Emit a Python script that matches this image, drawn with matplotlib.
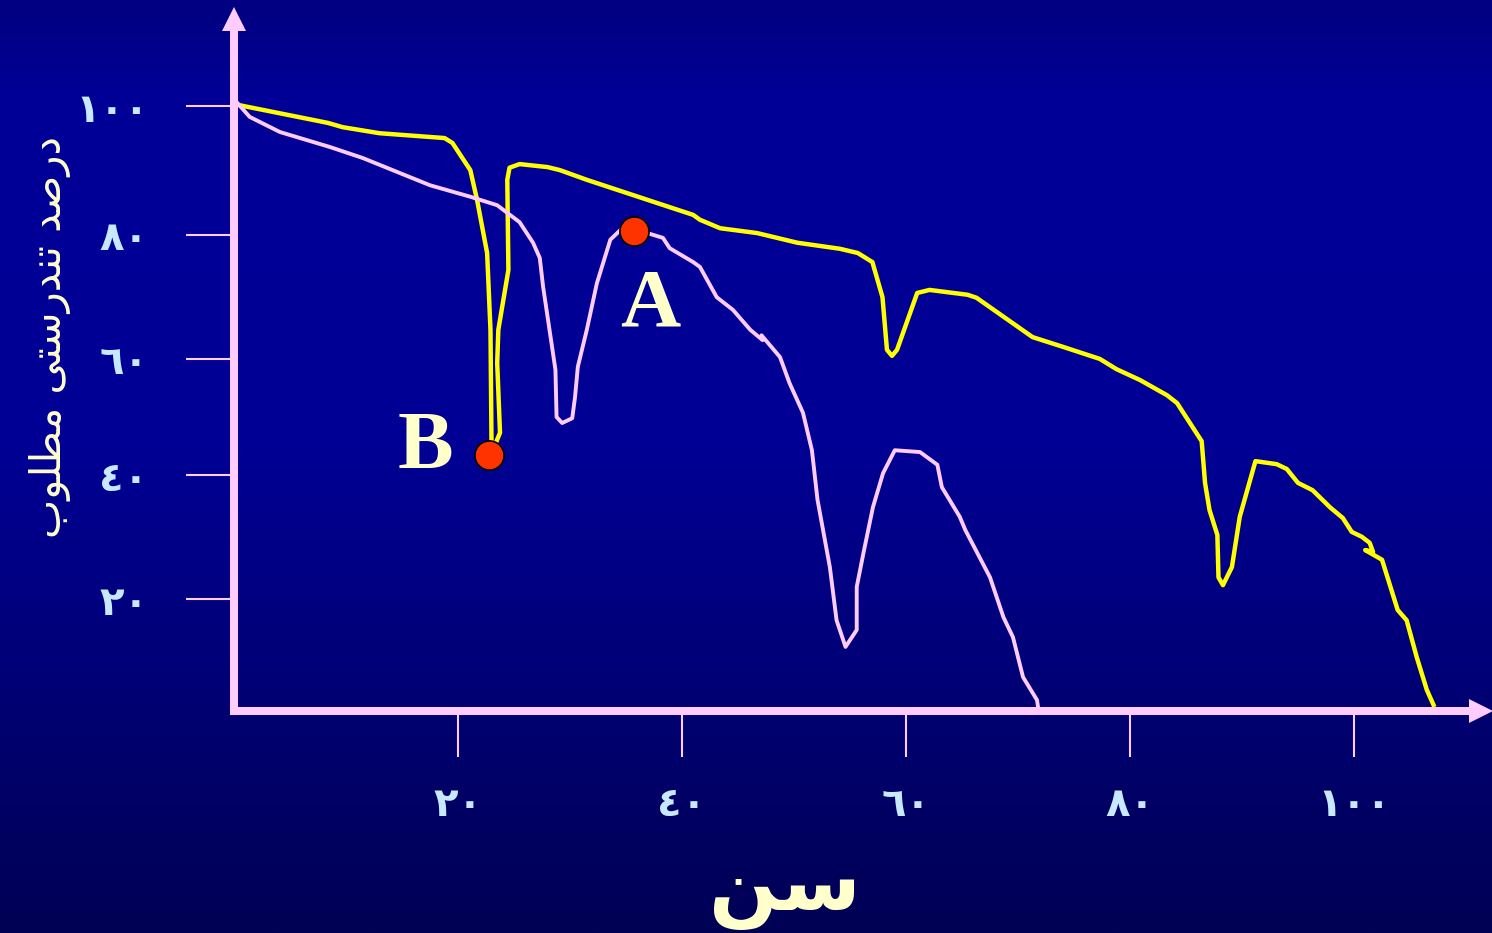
import numpy as np
import matplotlib.pyplot as plt

# values: age (x) against percent of good health (y)
yellow_age = [0.3, 8.4, 9.7, 13.0, 18.8, 19.5, 21.1, 21.7, 22.6, 22.9, 23.0, 23.75,
              23.5, 23.6, 24.5, 24.4, 24.6, 25.5, 28.0, 29.1, 31.5, 36.9, 41.0, 41.6,
              43.4, 46.7, 50.3, 54.1, 55.7, 57.0, 57.9, 58.3, 58.75, 59.2, 61.0, 62.1,
              65.5, 66.3, 71.3, 74.0, 77.3, 78.8, 80.9, 83.3, 84.2, 86.4, 86.7, 87.1,
              87.8, 87.9, 88.3, 89.1, 89.8, 91.2, 93.1, 94.0, 95.0, 96.3, 97.9, 99.0,
              99.8, 100.7, 101.4, 101.7, 101.0, 102.5, 103.9, 104.7, 105.6, 106.5, 107.1]
yellow_health = [100.2, 97.2, 96.5, 95.5, 94.7, 93.9, 89.4, 84.5, 75.7, 63.0, 42.6, 46.0,
                 57.5, 63.0, 72.9, 87.8, 89.8, 90.4, 89.9, 89.4, 87.8, 84.5, 82.0, 81.2,
                 79.8, 79.0, 77.4, 76.4, 75.7, 74.2, 68.4, 59.7, 58.7, 59.7, 69.1, 69.6,
                 68.8, 68.3, 61.8, 60.2, 58.2, 56.5, 54.7, 52.2, 50.9, 44.6, 37.7, 33.2,
                 29.1, 22.1, 20.8, 23.8, 32.1, 41.3, 40.8, 40.0, 37.7, 36.5, 33.6, 31.9,
                 29.6, 28.8, 27.8, 26.3, 26.6, 25.0, 16.7, 15.0, 8.9, 3.5, 1.0]

pink_age = [0.3, 1.4, 4.1, 8.6, 11.5, 17.5, 21.1, 23.5, 25.5, 26.7, 27.3, 27.6, 28.7,
            28.8, 29.3, 30.2, 30.45, 30.7, 31.5, 32.4, 33.6, 34.5, 36.9, 38.3, 38.9,
            41.0, 41.6, 43.1, 44.55, 46.1, 47.2, 47.1, 48.75, 49.6, 50.8, 51.6, 52.1,
            53.2, 53.8, 54.6, 55.6, 55.6, 56.2, 57.05, 57.95, 59.0, 61.25, 62.8, 63.2,
            64.8, 65.3, 67.5, 68.7, 69.55, 70.45, 71.7, 71.8]
pink_health = [100.5, 98.2, 95.7, 93.2, 91.4, 86.9, 85.0, 83.6, 80.8, 77.4, 74.9, 70.1,
               56.4, 48.6, 47.6, 48.4, 51.9, 56.9, 63.0, 70.7, 77.9, 79.5, 79.0, 78.2,
               76.5, 74.2, 73.4, 68.4, 66.3, 63.0, 61.3, 62.1, 58.5, 54.2, 49.3, 43.1,
               34.9, 23.8, 15.0, 10.6, 13.4, 20.5, 26.1, 33.7, 39.3, 43.1, 42.8, 40.7,
               37.0, 32.1, 29.9, 22.1, 15.5, 12.2, 5.6, 1.8, 0.5]

point_names = ['A', 'B']
point_age = [35.7, 22.8]
point_health = [79.3, 42.3]

x_ticks = [20, 40, 60, 80, 100]
x_tick_labels = ['٢٠', '٤٠', '٦٠', '٨٠', '١٠٠']
# the original slide spaces its y ticks a little unevenly
y_ticks = [18.5, 39.0, 58.2, 78.7, 100.0]
y_tick_labels = ['٢٠', '٤٠', '٦٠', '٨٠', '١٠٠']

x_label = 'سن'
y_label = 'درصد تندرستی مطلوب'

PINK = '#ffccff'
YELLOW = '#ffff00'
CREAM = '#ffffcc'
LIGHTBLUE = '#c8e8ff'

# matplotlib has no arabic shaping, so pick presentation forms by hand
# (isolated, final, initial, medial); two-form letters never join to the left
FORMS = {
    'ب': ('\ufe8f', '\ufe90', '\ufe91', '\ufe92'),
    'ت': ('\ufe95', '\ufe96', '\ufe97', '\ufe98'),
    'د': ('\ufea9', '\ufeaa'),
    'ر': ('\ufead', '\ufeae'),
    'س': ('\ufeb1', '\ufeb2', '\ufeb3', '\ufeb4'),
    'ص': ('\ufeb9', '\ufeba', '\ufebb', '\ufebc'),
    'ط': ('\ufec1', '\ufec2', '\ufec3', '\ufec4'),
    'ل': ('\ufedd', '\ufede', '\ufedf', '\ufee0'),
    'م': ('\ufee1', '\ufee2', '\ufee3', '\ufee4'),
    'ن': ('\ufee5', '\ufee6', '\ufee7', '\ufee8'),
    'و': ('\ufeed', '\ufeee'),
    'ی': ('\ufeef', '\ufef0', '\ufef3', '\ufef4'),
}


def shape(s):
    out = []
    for i, ch in enumerate(s):
        if ch not in FORMS:
            out.append(ch)
            continue
        prev = s[i - 1] if i > 0 else ' '
        nxt = s[i + 1] if i + 1 < len(s) else ' '
        f = FORMS[ch]
        j_prev = prev in FORMS and len(FORMS[prev]) == 4
        j_next = nxt in FORMS and len(f) == 4
        if j_prev and j_next:
            out.append(f[3])
        elif j_prev:
            out.append(f[1])
        elif j_next:
            out.append(f[2])
        else:
            out.append(f[0])
    return ''.join(out[::-1])


W, H = 1492, 933
fig = plt.figure(figsize=(W / 100, H / 100), dpi=100)

# slide background: navy gradient, darker towards the bottom
bg = fig.add_axes([0, 0, 1, 1])
bg.axis('off')
rows = np.linspace(0, 1, 500)
img = np.zeros((500, 1, 3))
img[:, 0, 2] = np.interp(rows, [0, 0.11, 0.48, 1.0], [128, 152, 148, 84]) / 255
bg.imshow(img, aspect='auto', extent=[0, 1, 0, 1])
bg.set_xlim(0, 1)
bg.set_ylim(0, 1)

ox, oy = 234, 711   # origin of the chart in pixels
ax = fig.add_axes([ox / W, (H - oy) / H, (W - ox) / W, oy / H])
ax.patch.set_visible(False)
ax.set_xlim(0, (W - ox) / 11.2)
ax.set_ylim(0, oy / 6.05)

for side in ['top', 'right']:
    ax.spines[side].set_visible(False)
for side in ['left', 'bottom']:
    ax.spines[side].set_color(PINK)
    ax.spines[side].set_linewidth(5.8)
    ax.spines[side].set_capstyle('projecting')
ax.spines['left'].set_bounds(0, 112.6)
ax.spines['bottom'].set_bounds(0, 110.4)
# arrow heads at the ends of both axes
ax.plot([0], [114.3], marker='^', ms=17.3, mew=0, color=PINK, clip_on=False, zorder=3)
ax.plot([111.3], [0], marker='>', ms=17.3, mew=0, color=PINK, clip_on=False, zorder=3)

ax.set_xticks(x_ticks, x_tick_labels)
ax.set_yticks(y_ticks, y_tick_labels)
ax.tick_params(axis='x', length=33, width=1.5, color=PINK, pad=20,
               labelsize=29, labelcolor=LIGHTBLUE)
ax.tick_params(axis='y', length=34.5, width=1.5, color=PINK, pad=27,
               labelsize=29, labelcolor=LIGHTBLUE)
for lbl in ax.get_xticklabels() + ax.get_yticklabels():
    lbl.set_fontweight('bold')

ax.plot(yellow_age, yellow_health, color=YELLOW, lw=3.2, solid_joinstyle='round', zorder=2)
ax.plot(pink_age, pink_health, color=PINK, lw=2.8, solid_joinstyle='round', zorder=2)

ax.scatter(point_age, point_health, s=21 ** 2, color='#ff3300', edgecolors='black',
           linewidths=1.2, zorder=4, clip_on=False)
offsets = [(11.5, -67.7), (-46, -9.4)]
for name, xa, ya, off in zip(point_names, point_age, point_health, offsets):
    ax.annotate(name, (xa, ya), xytext=off, textcoords='offset points',
                ha='center', va='baseline', fontsize=60, fontweight='bold',
                family='Liberation Serif', color=CREAM)

fig.text(50 / W, 1 - 337 / H, shape(y_label), rotation=90, ha='center', va='center',
         fontsize=30, family='DejaVu Sans', color=CREAM)
fig.text(785 / W, 3 / H, shape(x_label), ha='center', va='bottom',
         fontsize=58, fontweight='bold', family='DejaVu Sans', color=CREAM)

fig.savefig('out.png', dpi=100)
